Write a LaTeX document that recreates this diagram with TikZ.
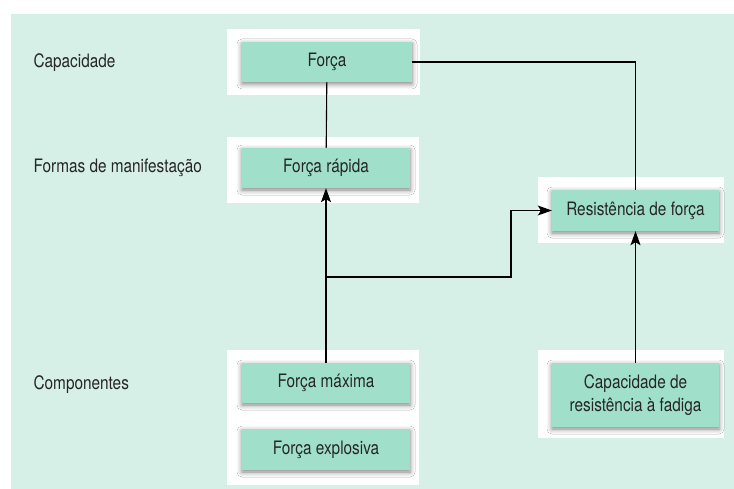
\documentclass[tikz,border=0pt]{standalone}
\usepackage{fontspec}
\setmainfont{TeX Gyre Heros}[FakeStretch=0.83]
\usetikzlibrary{arrows.meta,backgrounds,shadows.blur}

\definecolor{corfundo}{RGB}{214,240,232}
\definecolor{corcaixa}{RGB}{160,224,203}
\definecolor{cortexto}{RGB}{38,38,38}

\tikzset{
	caixa/.style={fill=corcaixa, text=cortexto, minimum width=168pt, minimum height=41pt, inner sep=0pt, align=center,
		blur shadow={shadow xshift=0pt, shadow yshift=-2pt, shadow blur radius=5pt, shadow opacity=50}},
	rotulo/.style={anchor=base west, text=cortexto},
	seta/.style={-{Stealth[length=14pt,width=10pt,inset=3pt]}, line width=1.1pt},
	linha/.style={line width=1.1pt}
}

\begin{document}
\begin{tikzpicture}[x=1pt, y=-1pt, font=\fontsize{18.5}{23}\selectfont]
				\useasboundingbox[fill=white] (0,0) rectangle (734,489);
				\fill[corfundo] (11,14) rectangle (734,489);
				% paineis brancos
				\fill[white] (227,29) rectangle (420,95);
				\fill[white] (227,137) rectangle (419,203);
				\fill[white] (538,177) rectangle (724,243);
				\fill[white] (227,350) rectangle (419,485);
				\fill[white] (538,350) rectangle (724,438);

				\node[rotulo] (lcap) at (30,68) {Capacidade};
				\node[rotulo] (lformas) at (30,173) {Formas de manifestação};
				\node[rotulo] (lcomp) at (30,389) {Componentes};

				\node[caixa, minimum width=170pt, minimum height=40pt] (forca) at (327,62) {Força};
				\node[caixa, minimum height=40pt] (frapida) at (326,168) {Força rápida};
				\node[caixa, minimum width=167pt] (resist) at (635.5,210.5) {Resistência de força};
				\node[caixa, minimum height=40pt] (fmax) at (326,383) {Força máxima};
				\node[caixa] (fexp) at (326,449.5) {Força explosiva};
				\node[caixa, minimum width=167pt, minimum height=64pt] (capres) at (635.5,395) {Capacidade de\\resistência à fadiga};

				\coordinate (split) at (326,277);
				\coordinate (knee) at (511,277);

				\draw[linha] (forca.east) -| (resist.north);
				\draw[linha] (forca) to (frapida);
				\draw[seta] (fmax) to (frapida);
				\draw[seta] (split) to (knee) |- (resist.west);
				\draw[seta] (capres) to (resist);
			\end{tikzpicture}
\end{document}
